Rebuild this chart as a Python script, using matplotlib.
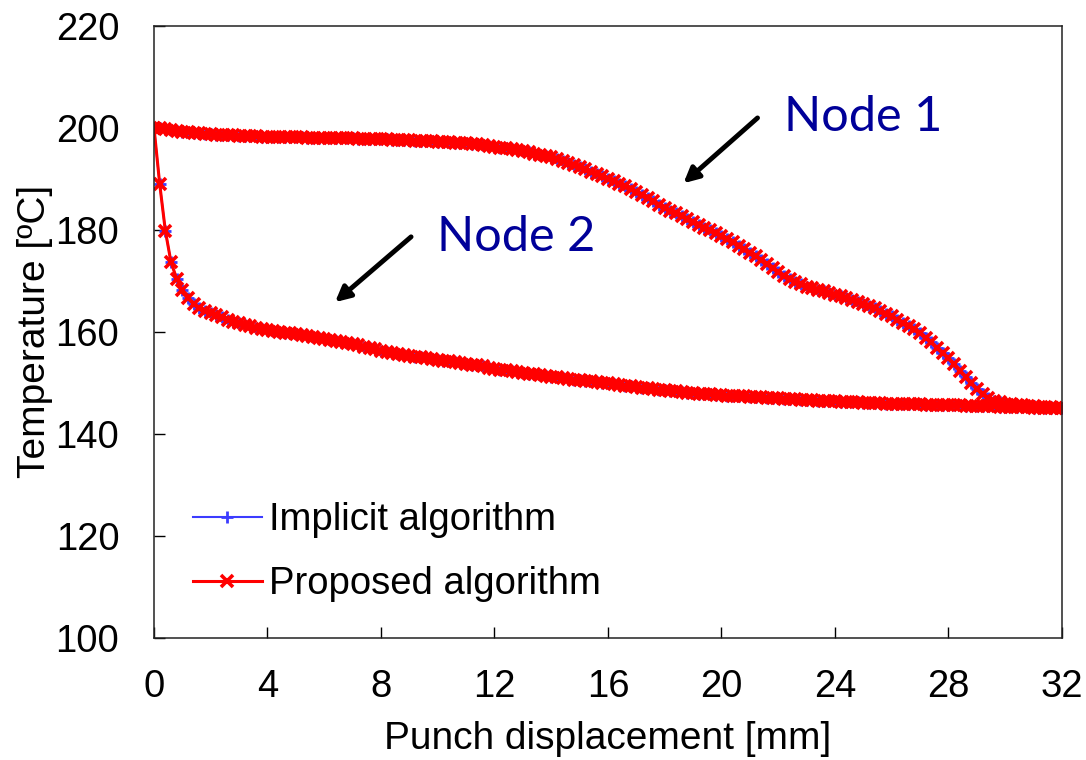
import numpy as np
import matplotlib.pyplot as plt

plt.rcParams['font.family'] = ['Liberation Sans', 'DejaVu Sans']

# Punch displacement steps [mm], recorded every 0.2 mm
disp = np.round(np.arange(0, 32.001, 0.2), 1)

# Temperature history of node 1 [C]
node1_temp = [
    200.0, 199.9, 199.8, 199.6, 199.4, 199.2, 199.1, 199.0, 198.9, 198.8,
    198.7, 198.6, 198.6, 198.5, 198.5, 198.4, 198.4, 198.3, 198.3, 198.2,
    198.2, 198.2, 198.2, 198.1, 198.1, 198.1, 198.1, 198.0, 198.0, 198.0,
    198.0, 198.0, 197.9, 197.9, 197.9, 197.9, 197.8, 197.8, 197.8, 197.7,
    197.7, 197.7, 197.6, 197.6, 197.5, 197.5, 197.4, 197.4, 197.3, 197.3,
    197.2, 197.1, 197.1, 197.0, 197.0, 196.9, 196.8, 196.7, 196.6, 196.4,
    196.3, 196.1, 196.0, 195.8, 195.6, 195.4, 195.2, 194.9, 194.7, 194.5,
    194.2, 193.8, 193.4, 193.1, 192.7, 192.3, 191.9, 191.4, 191.0, 190.5,
    190.0, 189.5, 189.0, 188.5, 187.9, 187.4, 186.8, 186.2, 185.6, 184.9,
    184.3, 183.7, 183.2, 182.6, 182.1, 181.5, 181.0, 180.4, 179.9, 179.3,
    178.8, 178.2, 177.5, 176.9, 176.2, 175.5, 174.8, 174.0, 173.3, 172.5,
    171.8, 171.0, 170.3, 169.8, 169.3, 168.8, 168.5, 168.2, 167.9, 167.6,
    167.3, 167.0, 166.7, 166.3, 165.9, 165.5, 165.0, 164.6, 164.1, 163.5,
    163.0, 162.4, 161.8, 161.2, 160.5, 159.7, 158.8, 157.9, 156.9, 155.9,
    154.8, 153.6, 152.4, 151.2, 150.0, 148.8, 147.8, 147.0, 146.5, 146.2,
    145.9, 145.8, 145.7, 145.6, 145.5, 145.4, 145.3, 145.2, 145.2, 145.1,
    145.0,
]

# Temperature history of node 2 [C]
node2_temp = [
    200.0, 189.0, 179.8, 173.6, 170.4, 168.1, 166.6, 165.5, 164.7, 164.1,
    163.6, 163.2, 162.8, 162.4, 162.0, 161.7, 161.4, 161.1, 160.8, 160.6,
    160.4, 160.2, 160.0, 159.8, 159.7, 159.5, 159.3, 159.1, 159.0, 158.8,
    158.6, 158.4, 158.2, 158.0, 157.8, 157.6, 157.4, 157.1, 156.9, 156.6,
    156.3, 156.1, 155.9, 155.7, 155.5, 155.3, 155.1, 155.0, 154.8, 154.7,
    154.5, 154.3, 154.2, 154.0, 153.9, 153.7, 153.5, 153.4, 153.2, 153.0,
    152.8, 152.6, 152.5, 152.3, 152.2, 152.0, 151.8, 151.7, 151.5, 151.4,
    151.2, 151.1, 150.9, 150.8, 150.6, 150.5, 150.4, 150.3, 150.1, 150.0,
    149.9, 149.7, 149.6, 149.4, 149.3, 149.1, 149.0, 148.9, 148.7, 148.6,
    148.5, 148.4, 148.3, 148.2, 148.1, 148.0, 147.9, 147.8, 147.8, 147.7,
    147.6, 147.5, 147.5, 147.4, 147.4, 147.3, 147.2, 147.2, 147.1, 147.1,
    147.0, 146.9, 146.8, 146.8, 146.7, 146.6, 146.6, 146.5, 146.5, 146.4,
    146.4, 146.3, 146.3, 146.2, 146.2, 146.1, 146.1, 146.0, 146.0, 145.9,
    145.9, 145.9, 145.8, 145.8, 145.8, 145.8, 145.7, 145.7, 145.7, 145.6,
    145.6, 145.6, 145.6, 145.5, 145.5, 145.5, 145.4, 145.4, 145.4, 145.3,
    145.3, 145.3, 145.2, 145.2, 145.2, 145.1, 145.1, 145.1, 145.0, 145.0,
    145.0,
]

x_ticks = [0, 4, 8, 12, 16, 20, 24, 28, 32]
y_ticks = [100, 120, 140, 160, 180, 200, 220]

fig = plt.figure(figsize=(10.86, 7.6), dpi=100)
ax = fig.add_axes([0.1418, 0.1605, 0.8361, 0.8059])

# Implicit solution underneath, proposed on top (they overlap almost exactly)
for temp in (node1_temp, node2_temp):
    ax.plot(disp, temp, color='#3c3cff', lw=1.5, marker='+', ms=9, mew=2,
            label='Implicit algorithm' if temp is node1_temp else None)
for temp in (node1_temp, node2_temp):
    ax.plot(disp, temp, color='#ff0000', lw=2.2, marker='x', ms=8, mew=2.6,
            label='Proposed algorithm' if temp is node1_temp else None)

ax.set_xlim(0, 32)
ax.set_ylim(100, 220)
ax.set_xticks(x_ticks)
ax.set_yticks(y_ticks)
ax.tick_params(direction='in', length=8, width=1, labelsize=27.5, pad=22)
ax.tick_params(axis='y', pad=25)
for s in ax.spines.values():
    s.set_linewidth(1.1)
    s.set_color('#222222')

ax.set_xlabel('Punch displacement [mm]', fontsize=28, labelpad=12)
ax.set_ylabel('Temperature [ºC]', fontsize=28, labelpad=2)

# Node labels with arrows
arrow = dict(arrowstyle='-|>,head_length=0.9,head_width=0.45', lw=3.5,
             color='black', shrinkA=0, shrinkB=0)
ax.annotate('', xy=(18.66, 189.1), xytext=(21.27, 201.9), arrowprops=arrow)
ax.annotate('', xy=(6.38, 165.8), xytext=(9.06, 178.6), arrowprops=arrow)
ax.text(22.2, 202.1, 'Node 1', color='#000099', fontsize=35, va='center',
        family=['Lato', 'DejaVu Sans'])
ax.text(9.98, 178.6, 'Node 2', color='#000099', fontsize=35, va='center',
        family=['Lato', 'DejaVu Sans'])

ax.legend(loc='lower left', bbox_to_anchor=(0.026, 0.034), frameon=False,
          fontsize=27.5, handlelength=1.8, handletextpad=0.2, labelspacing=0.72,
          borderaxespad=0)

plt.savefig('out.png', dpi=100)
